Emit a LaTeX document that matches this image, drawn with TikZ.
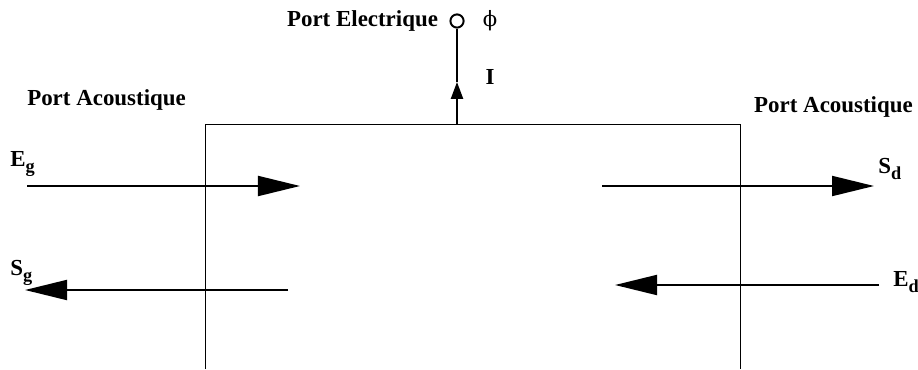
\documentclass[tikz,border=0pt]{standalone}
\usepackage{fontspec}
\setmainfont{Liberation Serif}
\newfontfamily\greekfont{DejaVu Serif}
\usetikzlibrary{arrows.meta, positioning}

\newcommand{\portsub}[1]{\raisebox{-0.55ex}{\fontsize{13}{13}\selectfont #1}}

\begin{document}
\begin{tikzpicture}[
		% one unit = one pixel of the reference
		x=0.025cm, y=-0.025cm,
		txt/.style = {font=\fontsize{16.3}{19}\selectfont\bfseries, inner sep=0pt},
		wall/.style = {line width=0.7pt},
		flow/.style = {line width=1.4pt, -{Triangle[length=1.05cm, width=0.5cm]}},
		>={Triangle[length=0.42cm, width=0.3cm]}
		]
		\useasboundingbox (0,0) rectangle (918,369);
		
		% --- boite (ouverte en bas) ---
		\coordinate (bl) at (205,369);
		\coordinate (tl) at (205,124);
		\coordinate (tr) at (740,124);
		\coordinate (br) at (740,369);
		\draw [wall] (bl) -- (tl) -- (tr) -- (br);
		
		% --- port electrique ---
		\coordinate (stem) at (457,124);
		\coordinate (tipI) at (457,82);
		\node [circle, draw, line width=1.4pt, minimum size=0.33cm, inner sep=0pt] at (457,21) (elec) {};
		\draw [->, line width=1.4pt] (stem) -- (tipI);
		\draw [line width=1.4pt] (tipI) -- (elec.south);
		\node [txt, left=0.28cm of elec] (pelec) {Port Electrique};
		\node [inner sep=0pt, right=0.45cm of elec, font=\fontsize{15}{18}\selectfont\greekfont] (phi) {ϕ};
		\node [txt] at (490,77) (cour) {I};
		
		% --- ports acoustiques ---
		\node [txt, anchor=west] at (27,100) (pacg) {Port Acoustique};
		\node [txt, anchor=east] at (913,107) (pacd) {Port Acoustique};
		
		% gauche
		\coordinate (eg0) at (27,186);
		\coordinate (eg1) at (300,186);
		\coordinate (sg0) at (288,290);
		\coordinate (sg1) at (25,290);
		\draw [flow] (eg0) -- (eg1);
		\draw [flow] (sg0) -- (sg1);
		\node [txt, anchor=west] at (10,164) (Eg) {E\portsub{g}};
		\node [txt, anchor=west] at (10,273) (Sg) {S\portsub{g}};
		
		% droite
		\coordinate (sd0) at (602,186);
		\coordinate (sd1) at (874,186);
		\coordinate (ed0) at (879,285);
		\coordinate (ed1) at (615,285);
		\draw [flow] (sd0) -- (sd1);
		\draw [flow] (ed0) -- (ed1);
		\node [txt, anchor=west] at (878,169) (Sd) {S\portsub{d}};
		\node [txt, anchor=west] at (893,282) (Ed) {E\portsub{d}};
		
	\end{tikzpicture}
\end{document}
